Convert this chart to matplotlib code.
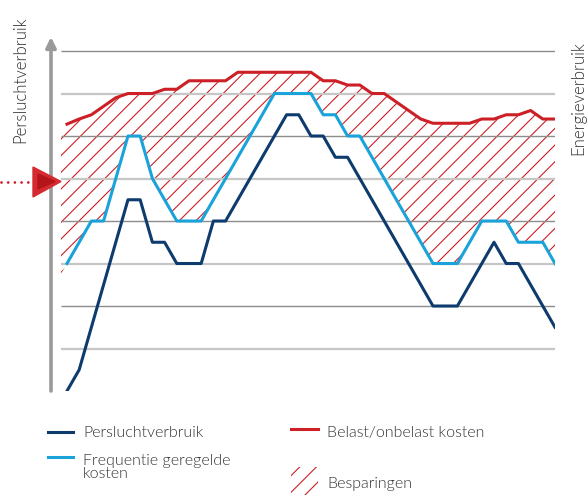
#!/usr/bin/env python3

import numpy as np
import matplotlib.pyplot as plt
from matplotlib.patches import Polygon, Rectangle
from matplotlib.lines import Line2D

plt.rcParams['font.family'] = ['Lato', 'DejaVu Sans']
plt.rcParams['font.weight'] = 300
plt.rcParams['hatch.linewidth'] = 0.8

steps = np.arange(41)
perslucht = [0.0, 0.5, 1.5, 2.5, 3.5, 4.5, 4.5, 3.5, 3.5, 3.0, 3.0, 3.0, 4.0, 4.0,
             4.5, 5.0, 5.5, 6.0, 6.5, 6.5, 6.0, 6.0, 5.5, 5.5, 5.0, 4.5, 4.0, 3.5,
             3.0, 2.5, 2.0, 2.0, 2.0, 2.5, 3.0, 3.5, 3.0, 3.0, 2.5, 2.0, 1.5]
frequentie = [3.0, 3.5, 4.0, 4.0, 5.0, 6.0, 6.0, 5.0, 4.5, 4.0, 4.0, 4.0, 4.5, 5.0,
              5.5, 6.0, 6.5, 7.0, 7.0, 7.0, 7.0, 6.5, 6.5, 6.0, 6.0, 5.5, 5.0, 4.5,
              4.0, 3.5, 3.0, 3.0, 3.0, 3.5, 4.0, 4.0, 4.0, 3.5, 3.5, 3.5, 3.0]
belast = [6.28, 6.4, 6.5, 6.7, 6.9, 7.0, 7.0, 7.0, 7.1, 7.1, 7.3, 7.3, 7.3, 7.3,
          7.5, 7.5, 7.5, 7.5, 7.5, 7.5, 7.5, 7.3, 7.3, 7.2, 7.2, 7.0, 7.0, 6.8,
          6.6, 6.4, 6.3, 6.3, 6.3, 6.3, 6.4, 6.4, 6.5, 6.5, 6.6, 6.4, 6.4]
grid_levels = [1, 2, 3, 4, 5, 6, 7, 8]

DARK = '#0d3b6e'
LIGHT = '#1aa3da'
RED = '#cc1f26'
TEXT = '#333333'

W, H = 588.0, 495.0


def fx(px):
  return px / W


def fy(py):
  return 1 - py / H


def main():
  fig = plt.figure(figsize=(5.88, 4.95), dpi=100)
  ax = fig.add_axes([fx(51), fy(391), (555 - 51) / W, (391 - 37) / H])
  ax.set_xlim(-1.31, 40)
  ax.set_ylim(0, 8.33)
  ax.axis('off')

  # grid, alternating dark / light
  for lev in grid_levels:
    if lev % 2 == 0:
      ax.hlines(lev, -0.49, 40, color='#8c8c8c', lw=1.0, zorder=2)
    else:
      ax.hlines(lev, -0.49, 40, color='#c6c6c6', lw=1.6, zorder=2)

  # savings area, stretched half a step to the left edge of the grid
  xf = np.concatenate([[-0.5], steps])
  top = np.concatenate([[belast[0] - (belast[1] - belast[0]) / 2], belast])
  bot = np.concatenate([[frequentie[0] - (frequentie[1] - frequentie[0]) / 2], frequentie])
  ax.fill_between(xf, bot, top, facecolor='none', edgecolor=RED, hatch='//', lw=0, zorder=1)

  ax.plot(steps, belast, color=RED, lw=2.2, zorder=3)
  ax.plot(steps, frequentie, color=LIGHT, lw=2.2, zorder=4)
  ax.plot(steps, perslucht, color=DARK, lw=2.2, zorder=5)

  # vertical axis arrow
  ax.annotate('', xy=(0, 1), xytext=(0, 0), xycoords='axes fraction',
              arrowprops=dict(arrowstyle='-|>,head_length=0.6,head_width=0.3',
                              color='#9a9a9a', lw=2.6, shrinkA=0, shrinkB=0))

  # red pointer on the left
  fig.add_artist(Line2D([fx(1.5), fx(33)], [fy(181.5), fy(181.5)], transform=fig.transFigure,
                        color=RED, lw=2.0, linestyle=(0, (0.01, 2.4)), dash_capstyle='round'))
  fig.add_artist(Polygon([(fx(33), fy(167)), (fx(61), fy(181.5)), (fx(33), fy(197))],
                         closed=True, transform=fig.transFigure, color='#d42a30', zorder=6))
  fig.add_artist(Polygon([(fx(38), fy(174)), (fx(55), fy(181.5)), (fx(38), fy(189))],
                         closed=True, transform=fig.transFigure, color='#b5141b', zorder=7))

  fig.text(fx(20), fy(80), 'Persluchtverbruik', rotation=90, ha='center', va='center',
           fontsize=12.1, color=TEXT)
  fig.text(fx(578), fy(98), 'Energieverbruik', rotation=90, ha='center', va='center',
           fontsize=12.1, color=TEXT)

  # legend
  for x0, x1, y, c in [(48, 73, 432, DARK), (48, 73, 457, LIGHT), (291, 318, 429, RED)]:
    fig.add_artist(Line2D([fx(x0), fx(x1)], [fy(y), fy(y)], transform=fig.transFigure,
                          color=c, lw=2.2))
  fig.add_artist(Rectangle((fx(291), fy(495)), 27 / W, 28 / H, transform=fig.transFigure,
                           facecolor='none', edgecolor=RED, hatch='//', lw=0))
  fig.text(fx(83), fy(437), 'Persluchtverbruik', fontsize=11.5, color=TEXT, va='baseline')
  fig.text(fx(83), fy(478), 'Frequentie geregelde\nkosten', fontsize=11.5, color=TEXT,
           va='baseline', linespacing=0.95)
  fig.text(fx(327), fy(437), 'Belast/onbelast kosten', fontsize=11.5, color=TEXT, va='baseline')
  fig.text(fx(327), fy(488), 'Besparingen', fontsize=11.5, color=TEXT, va='baseline')

  fig.savefig('out.png', dpi=100)


if __name__ == '__main__':
  main()
